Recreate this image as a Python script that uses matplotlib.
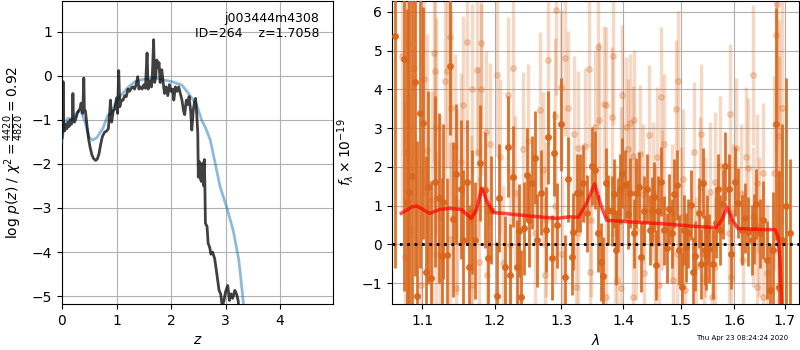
import matplotlib
matplotlib.use("Agg")
import matplotlib.pyplot as plt
from matplotlib.ticker import FixedLocator, FixedFormatter, NullLocator

# ---------------- Left panel: log p(z) ----------------
pz_z = [0.00,0.01,0.02,0.03,0.05,0.07,0.09,0.11,0.13,0.15,0.17,0.19,0.20,0.21,0.23,0.26,0.28,0.30,0.33,0.35,
        0.37,0.38,0.40,0.41,0.43,0.46,0.49,0.52,0.55,0.58,0.62,0.65,0.68,0.71,0.74,0.78,0.82,0.85,0.87,0.89,
        0.91,0.94,0.97,1.00,1.02,1.04,1.06,1.09,1.12,1.15,1.18,1.21,1.24,1.27,1.30,1.33,1.36,1.39,1.41,1.44,
        1.47,1.50,1.53,1.56,1.58,1.61,1.64,1.66,1.68,1.70,1.72,1.74,1.76,1.78,1.80,1.83,1.85,1.88,1.91,1.94,
        1.97,2.00,2.03,2.05,2.08,2.11,2.14,2.17,2.20,2.23,2.25,2.28,2.31,2.33,2.36,2.38,2.41,2.43,2.45,2.47,
        2.49,2.50,2.52,2.54,2.56,2.58,2.60,2.61,2.62,2.63,2.66,2.68,2.71,2.73,2.76,2.80,2.84,2.88,2.91,2.94,
        2.97,3.00,3.04,3.07,3.10,3.13,3.17,3.20,3.23,3.25]
pz_logp = [-1.40,-1.25,-0.13,-1.15,-1.25,-1.10,-1.20,-1.05,-1.15,-1.00,-1.10,-1.05,-0.40,-1.00,-1.05,-0.95,-0.85,-0.80,-0.75,-0.62,
           -0.80,-0.85,-0.05,-0.75,-0.80,-1.15,-1.45,-1.65,-1.80,-1.88,-1.92,-1.88,-1.76,-1.55,-1.38,-1.28,-1.25,-1.20,-0.90,-0.55,
           -1.05,-0.80,-0.75,-0.50,-0.85,0.12,-0.70,-0.55,-0.55,-0.45,-0.47,-0.30,-0.35,-0.28,-0.25,-0.30,-0.20,-0.02,-0.30,-0.25,
           -0.30,-0.20,-0.28,0.52,-0.30,-0.12,-0.25,0.10,0.82,-0.15,0.00,0.36,0.20,0.30,-0.15,0.14,-0.10,-0.40,-0.25,-0.45,
           -0.20,-0.35,-0.30,-0.55,-0.25,-0.35,-0.25,-0.40,-0.55,-0.80,-0.88,-0.55,-0.65,-0.47,-0.80,-1.23,-0.75,-0.60,-0.51,-0.85,
           -1.30,-2.30,-1.95,-2.35,-2.40,-1.98,-2.50,-1.90,-2.45,-3.35,-3.42,-3.80,-3.90,-4.05,-4.00,-4.15,-4.50,-4.87,-4.95,-5.25,
           -5.10,-4.90,-4.76,-5.10,-4.95,-5.05,-4.87,-4.95,-5.10,-5.40]

chi_z = [0.00,0.04,0.10,0.20,0.29,0.35,0.43,0.49,0.56,0.64,0.75,0.84,0.90,0.97,1.06,1.14,1.22,1.34,1.49,1.71,
         1.86,2.01,2.20,2.32,2.47,2.56,2.64,2.72,2.81,2.90,3.02,3.14,3.24,3.28,3.31,3.36]
chi_logp = [-1.50,-1.08,-0.97,-0.97,-0.81,-0.81,-1.08,-1.38,-1.46,-1.40,-1.19,-0.89,-0.87,-0.65,-0.47,-0.36,-0.25,-0.13,-0.08,-0.05,
            -0.09,-0.13,-0.21,-0.40,-0.66,-1.00,-1.20,-1.46,-1.99,-2.52,-2.98,-3.51,-4.16,-4.60,-4.95,-5.60]

pz_xticks = [0, 1, 2, 3, 4]
pz_yticks = [-5, -4, -3, -2, -1, 0, 1]

# ---------------- Right panel: spectrum ----------------
dark_wave = [1.0645,1.076,1.080,1.083,1.087,1.0904,1.093,1.097,1.101,1.105,1.108,1.112,1.117,1.123,1.127,1.128,1.133,1.138,1.142,1.146,
             1.153,1.156,1.161,1.164,1.168,1.172,1.179,1.186,1.191,1.195,1.203,1.206,1.215,1.2196,1.222,1.227,1.232,1.235,1.238,1.243,
             1.247,1.250,1.255,1.259,1.263,1.269,1.276,1.280,1.285,1.289,1.294,1.300,1.305,1.311,1.316,1.318,1.324,1.329,1.335,1.340,
             1.348,1.353,1.358,1.364,1.366,1.371,1.375,1.381,1.385,1.388,1.391,1.395,1.399,1.404,1.408,1.411,1.419,1.422,1.427,1.431,
             1.436,1.441,1.446,1.449,1.453,1.457,1.460,1.465,1.470,1.475,1.480,1.484,1.488,1.493,1.497,1.502,1.506,1.510,1.513,1.518,
             1.522,1.527,1.534,1.538,1.540,1.544,1.546,1.548,1.552,1.560,1.565,1.569,1.573,1.578,1.583,1.590,1.594,1.601,1.607,1.614,
             1.620,1.627,1.634,1.638,1.643,1.650,1.656,1.663,1.670,1.676,1.682,1.689,1.695,1.703,1.710]
dark_flux = [5.38,4.79,1.08,1.36,1.76,4.18,-1.33,3.38,3.13,-0.71,1.47,-0.86,1.62,1.19,-0.30,1.10,-0.28,4.61,0.65,1.82,
             1.42,0.11,1.62,-0.58,0.83,0.10,2.09,1.40,-0.36,0.88,-1.34,1.19,-0.58,2.52,-0.78,1.75,-0.58,0.35,-1.35,0.41,
             1.79,0.62,1.59,2.23,0.11,1.33,0.38,2.76,-0.34,2.35,0.49,3.10,-0.85,1.68,-0.32,0.33,1.33,1.33,1.57,0.80,
             2.02,1.92,0.28,-0.45,-0.82,1.59,0.88,0.86,1.31,-0.14,0.80,1.42,1.84,1.54,0.77,1.33,0.28,1.33,1.49,-0.32,
             0.87,1.44,0.37,0.85,1.23,-0.54,0.87,1.62,0.36,-0.10,0.92,0.28,1.31,1.53,-0.15,-1.10,0.37,-0.08,0.28,1.01,
             -0.71,-0.30,0.80,-0.50,1.59,-0.15,-0.28,0.37,-0.11,-0.50,0.55,1.42,0.37,1.04,2.01,1.42,-0.24,1.62,1.07,0.37,
             0.67,0.33,0.11,0.39,1.04,0.28,0.63,-0.40,-1.19,-0.15,3.10,-1.10,0.11,1.00,0.30]
dark_err = [6.0,6.0,5.0,5.0,5.0,5.0,4.0,4.0,3.0,3.0,2.5,2.5,2.2,2.2,2.0,2.0,2.0,1.8,2.0,1.8,
            1.8,1.8,1.6,1.6,1.6,1.5,1.5,1.5,1.4,1.4,1.4,1.4,1.3,1.3,1.3,1.3,1.2,1.2,1.2,1.2,
            1.2,1.2,1.2,1.2,1.2,1.1,1.1,1.2,1.1,1.1,1.1,1.2,1.1,1.1,1.0,1.0,1.0,1.0,1.0,1.0,
            1.0,1.0,1.0,1.0,1.0,0.9,0.9,0.9,0.9,0.9,0.9,0.9,0.9,0.9,0.9,0.9,0.9,0.9,0.9,0.9,
            0.9,0.9,0.9,0.9,0.9,0.9,0.9,0.9,0.9,0.9,0.9,0.9,0.9,0.9,0.9,0.9,0.9,0.9,0.9,0.9,
            0.9,0.9,0.9,0.9,0.9,0.9,0.9,0.9,0.9,0.9,0.9,0.9,0.9,0.9,0.9,0.9,0.9,0.9,0.9,0.9,
            0.9,0.9,0.9,0.9,0.9,0.9,1.0,1.0,1.2,1.5,3.0,3.0,3.0,3.3,1.9]

light_wave = [1.074,1.078,1.080,1.082,1.084,1.090,1.098,1.103,1.106,1.113,1.116,1.117,1.118,1.119,1.124,1.130,1.133,1.137,1.138,1.1385,
              1.144,1.145,1.147,1.152,1.156,1.161,1.167,1.1675,1.168,1.175,1.176,1.178,1.180,1.181,1.188,1.189,1.193,1.204,1.208,1.212,
              1.220,1.222,1.227,1.229,1.234,1.241,1.249,1.259,1.267,1.271,1.275,1.277,1.280,1.290,1.2905,1.291,1.300,1.3005,1.305,1.310,
              1.320,1.323,1.326,1.327,1.337,1.344,1.345,1.347,1.353,1.359,1.360,1.368,1.371,1.372,1.381,1.383,1.386,1.389,1.396,1.397,
              1.399,1.405,1.408,1.412,1.416,1.417,1.419,1.422,1.428,1.434,1.435,1.444,1.451,1.455,1.458,1.461,1.466,1.467,1.470,1.484,
              1.487,1.491,1.493,1.495,1.500,1.505,1.508,1.525,1.528,1.535,1.538,1.542,1.544,1.554,1.557,1.563,1.564,1.572,1.589,1.592,
              1.594,1.597,1.603,1.613,1.616,1.622,1.627,1.636,1.637,1.644,1.645,1.648,1.655,1.656,1.664,1.678,1.682,1.683,1.686,1.688,
              1.689,1.694]
light_flux = [4.85,-0.32,2.39,5.19,0.37,4.54,-1.05,4.26,2.44,1.15,4.93,4.48,3.04,-0.24,0.71,4.22,4.48,0.15,5.36,3.52,
              2.52,-1.13,1.10,2.13,3.59,5.21,0.63,-1.05,4.00,4.49,2.37,-0.45,5.19,4.00,2.89,-0.79,2.59,4.37,2.26,-0.49,
              3.86,-0.03,4.54,1.32,-0.58,2.45,2.66,0.28,3.47,1.92,-0.80,0.63,4.76,3.32,1.00,6.05,4.06,-0.24,4.80,3.51,
              2.85,-1.10,2.48,0.28,2.54,4.52,-0.71,0.63,3.02,5.08,3.21,3.63,3.60,-1.35,3.28,4.87,0.28,-0.92,1.75,-1.13,
              3.86,3.03,2.47,3.12,-1.35,2.28,3.22,0.37,2.32,1.31,-0.75,2.82,1.36,0.19,2.26,-1.05,3.80,1.15,2.59,0.80,
              -0.92,3.48,-0.24,4.22,0.71,1.68,-1.19,2.39,-0.58,1.49,2.86,-0.88,0.45,1.36,-1.35,1.62,-0.58,2.03,0.28,3.36,
              -0.84,0.80,2.48,1.31,-0.41,2.26,1.97,4.37,0.71,1.57,-1.10,0.45,-1.35,1.84,-0.75,1.84,5.40,6.20,-1.13,1.85,
              2.80,3.53]
light_err = [4.0,4.0,4.0,4.0,3.5,3.5,3.0,3.0,3.0,2.8,2.8,2.8,2.8,2.6,2.6,2.5,2.5,2.5,2.5,2.5,
             2.4,2.4,2.4,2.3,2.3,2.3,2.2,2.2,2.2,2.2,2.2,2.2,2.2,2.2,2.1,2.1,2.1,2.1,2.0,2.0,
             2.0,2.0,2.0,2.0,2.0,2.0,2.0,2.0,2.0,2.0,2.0,2.0,2.0,2.0,2.0,2.2,2.0,2.0,2.0,2.0,
             2.0,2.0,2.0,2.0,2.0,2.0,2.0,2.0,2.0,2.0,2.0,2.0,2.0,2.0,1.8,1.8,1.8,1.8,1.8,1.8,
             1.8,1.8,1.8,1.8,1.8,1.8,1.8,1.8,1.8,1.8,1.8,1.8,1.8,1.8,1.8,1.8,1.8,1.8,1.8,1.8,
             1.8,1.8,1.8,1.8,1.8,1.8,1.8,1.8,1.8,1.8,1.8,1.8,1.8,1.8,1.8,1.8,1.8,1.8,1.8,1.8,
             1.8,1.8,1.8,1.8,1.8,1.8,1.8,1.8,1.8,1.8,1.8,1.8,1.8,1.8,1.8,2.5,3.0,3.0,3.0,3.0,
             3.0,3.0]

model_wave = [1.073,1.086,1.093,1.110,1.124,1.137,1.153,1.167,1.174,1.1816,1.188,1.198,1.212,1.252,1.293,1.313,1.327,1.340,1.353,1.364,
              1.373,1.411,1.469,1.529,1.566,1.576,1.586,1.598,1.607,1.656,1.680,1.686,1.690,1.693,1.697]
model_flux = [0.80,0.96,0.99,0.80,0.90,0.93,0.90,0.67,0.88,1.45,1.15,0.82,0.80,0.73,0.67,0.71,0.70,1.06,1.56,0.97,
              0.62,0.58,0.53,0.46,0.43,0.63,0.95,0.59,0.41,0.38,0.38,0.19,-0.41,-1.44,-2.50]

spec_xticks = [1.1, 1.2, 1.3, 1.4, 1.5, 1.6, 1.7]
spec_xticklabels = ["1.1", "1.2", "1.3", "1.4", "1.5", "1.6", "1.7"]
spec_yticks = [-1, 0, 1, 2, 3, 4, 5, 6]

fig = plt.figure(figsize=(8, 3.5), dpi=100)
ax1 = fig.add_axes([62/800, 46/350, 271/800, 303/350])
ax2 = fig.add_axes([392/800, 46/350, 407/800, 303/350])

# left
ax1.plot(chi_z, chi_logp, color='tab:blue', alpha=0.5, lw=2, zorder=3)
ax1.plot(pz_z, pz_logp, color='k', alpha=0.75, lw=2, zorder=4)
ax1.set_xlim(0, 4.97)
ax1.set_ylim(-5.18, 1.70)
ax1.set_xticks(pz_xticks)
ax1.set_yticks(pz_yticks)
ax1.grid(True)
ax1.set_xlabel(r'$z$')
ax1.set_ylabel(r'$\log\,p(z)$ / $\chi^2=\frac{4420}{4820}=0.92$')
ax1.text(0.95, 0.965, 'j003444m4308\nID=264    z=1.7058', transform=ax1.transAxes,
         ha='right', va='top', fontsize=9)

# right
col = '#d9661b'
ax2.errorbar(light_wave, light_flux, yerr=light_err, fmt='o', color=col, alpha=0.25,
             ms=4, lw=2.5, elinewidth=2.5, zorder=2)
ax2.errorbar(dark_wave, dark_flux, yerr=dark_err, fmt='o', color=col, alpha=0.9,
             ms=4, lw=2, elinewidth=2, zorder=3)
ax2.plot(model_wave, model_flux, color='red', alpha=0.7, lw=2.5, zorder=5)
ax2.axhline(0, color='k', ls=':', lw=2, zorder=6)
ax2.set_xscale('log')
ax2.set_xlim(1.061, 1.729)
ax2.set_ylim(-1.54, 6.28)
ax2.xaxis.set_major_locator(FixedLocator(spec_xticks))
ax2.xaxis.set_major_formatter(FixedFormatter(spec_xticklabels))
ax2.xaxis.set_minor_locator(NullLocator())
ax2.set_yticks(spec_yticks)
ax2.grid(True)
ax2.set_xlabel(r'$\lambda$')
ax2.set_ylabel(r'$f_\lambda\times10^{-19}$')

fig.text(0.985, 0.025, 'Thu Apr 23 08:24:24 2020', ha='right', va='bottom', fontsize=5)

fig.savefig('out.png', dpi=100)
